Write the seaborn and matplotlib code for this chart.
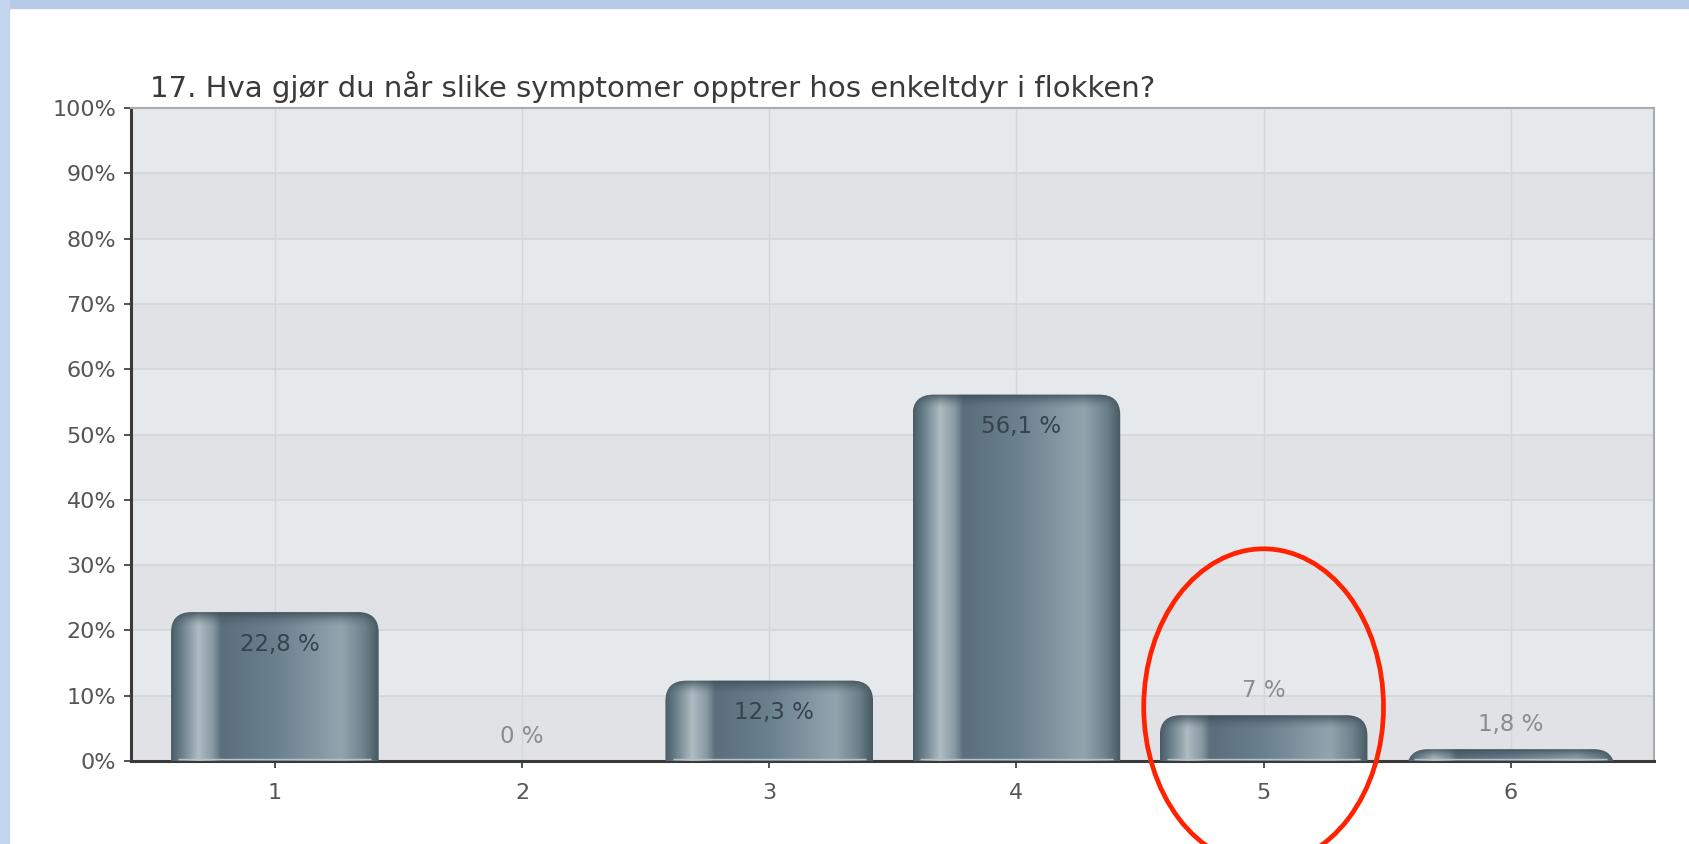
import numpy as np
import pandas as pd
import seaborn as sns
import matplotlib.pyplot as plt
from matplotlib.patches import FancyBboxPatch, Ellipse, Rectangle
from matplotlib.colors import LinearSegmentedColormap, to_rgb

# data
answers = ["1", "2", "3", "4", "5", "6"]
share = [22.8, 0.0, 12.3, 56.1, 7.0, 1.8]
share_labels = ["22,8 %", "0 %", "12,3 %", "56,1 %", "7 %", "1,8 %"]
title = "17. Hva gjør du når slike symptomer opptrer hos enkeltdyr i flokken?"
yticks = list(range(0, 101, 10))

df = pd.DataFrame({"svar": answers, "andel": share})

sns.set_theme(style="white")
plt.rcParams["font.family"] = ["DejaVu Sans"]

fig = plt.figure(figsize=(16.9, 8.44), dpi=100, facecolor="white")
# light blue frame of the screenshot
fig.patches.append(Rectangle((0, 0.99), 1, 0.01, transform=fig.transFigure,
                             color="#b7cbe8", zorder=0))
fig.patches.append(Rectangle((0, 0), 0.0055, 1, transform=fig.transFigure,
                             color="#c3d4ee", zorder=0))

ax = fig.add_axes([0.0778, 0.0983, 0.901, 0.7737])
ax.set_facecolor("#e3e5e8")

sns.barplot(data=df, x="svar", y="andel", color="#6e8390", width=0.84,
            ax=ax, zorder=3)
bars = list(ax.patches)

ax.set_xlim(-0.58, 5.58)
ax.set_ylim(0, 100)

# alternating horizontal bands + grid
for i, lo in enumerate(yticks[:-1]):
    ax.axhspan(lo, lo + 10, color="#e6e9ec" if i % 2 else "#e1e2e5",
               zorder=0, lw=0)
for y in yticks[1:]:
    ax.axhline(y, color="#d3d6d9", lw=1.2, zorder=1)
for x in range(len(answers)):
    ax.axvline(x, color="#d2d7dc", lw=1.0, zorder=1)

# metallic gradient across each bar
stops = [(0.0, "#4a5c66"), (0.05, "#6a808c"), (0.13, "#aebbc2"),
         (0.2, "#8799a3"), (0.24, "#5a6f7b"), (0.5, "#6a808d"),
         (0.82, "#92a5af"), (0.93, "#6e828d"), (1.0, "#475a64")]
metal = LinearSegmentedColormap.from_list("metal", stops)
grad = np.linspace(0, 1, 256).reshape(1, -1)

# dark rim at the top of each bar
rim = np.zeros((64, 1, 4))
rim[..., :3] = to_rgb("#3c4d57")
rim[:, 0, 3] = np.linspace(0, 1, 64) ** 1.6 * 0.85

rx = 0.085
ry = 3.1
for patch in bars:
    x0 = patch.get_x()
    w = patch.get_width()
    h = patch.get_height()
    patch.set_visible(False)
    if h <= 0:
        continue
    clip = FancyBboxPatch((x0, -2 * ry), w, h + 2 * ry,
                          boxstyle=f"round,pad=0,rounding_size={rx}",
                          mutation_aspect=ry / rx, transform=ax.transData,
                          facecolor="none", edgecolor="none")
    ax.add_patch(clip)
    im = ax.imshow(grad, cmap=metal, aspect="auto", extent=(x0, x0 + w, 0, h),
                   zorder=3, interpolation="bilinear")
    im.set_clip_path(clip)
    top = min(h, 2.2)
    shade = ax.imshow(rim, aspect="auto", extent=(x0, x0 + w, h - top, h),
                      origin="lower", zorder=4, interpolation="bilinear")
    shade.set_clip_path(clip)
    # thin light line at the foot of the bar
    ax.plot([x0 + 0.03, x0 + w - 0.03], [0.35, 0.35], color="#b7c3ca",
            lw=1.0, zorder=4, solid_capstyle="butt")

ax.set_xlim(-0.58, 5.58)
ax.set_ylim(0, 100)

# value labels
for i, (v, lab) in enumerate(zip(share, share_labels)):
    if v > 10:
        ax.text(i + 0.02, v - 4.9, lab, ha="center", va="center",
                fontsize=16.5, color="#34434d", zorder=6)
    else:
        ax.text(i, v + 3.8, lab, ha="center", va="center",
                fontsize=16.5, color="#8c8c8c", zorder=6)

ax.set_yticks(yticks)
ax.set_yticklabels([f"{t}%" for t in yticks])
ax.set_xlabel("")
ax.set_ylabel("")
ax.tick_params(axis="both", length=5, width=1.2, colors="#333333",
               labelsize=16, labelcolor="#555555", direction="out",
               left=True, bottom=True, pad=6)
ax.tick_params(axis="x", pad=11)
for side in ("left", "bottom"):
    ax.spines[side].set_color("#3a3a3a")
    ax.spines[side].set_linewidth(2.2)
for side in ("top", "right"):
    ax.spines[side].set_color("#a9abad")
    ax.spines[side].set_linewidth(1.5)
    ax.spines[side].set_visible(True)

ax.set_title(title, loc="left", fontsize=21, color="#3a3a3a", pad=8, x=0.012)

# red highlight around answer 5
ax.add_patch(Ellipse((4, 8.3), 0.97, 48.4, fill=False, edgecolor="#ff2200",
                     lw=3.4, clip_on=False, zorder=10))

fig.savefig("out.png", dpi=100, facecolor="white")
